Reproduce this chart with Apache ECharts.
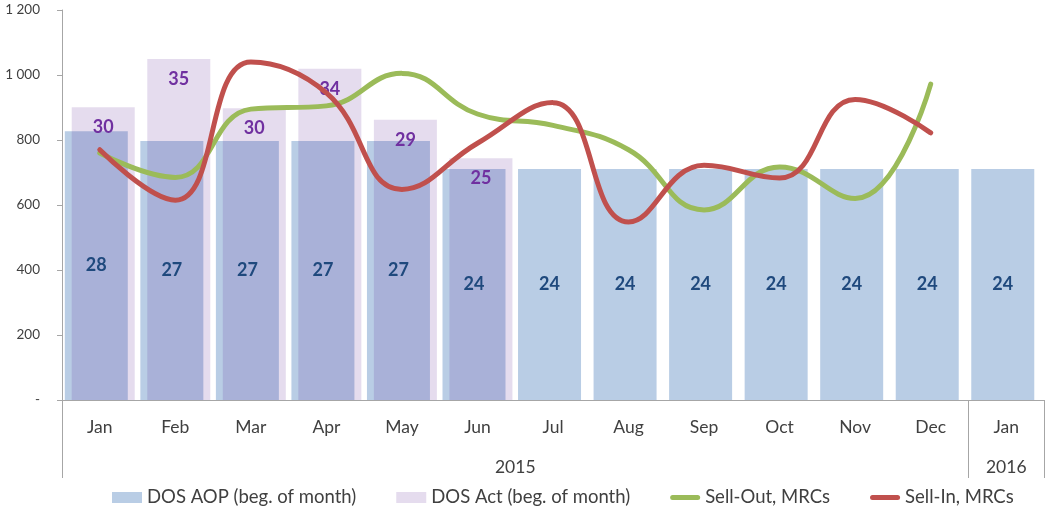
<!DOCTYPE html>
<html>
<head>
<meta charset="utf-8">
<script src="https://cdn.jsdelivr.net/npm/echarts@6/dist/echarts.min.js"></script>
<style>
  html, body { margin: 0; padding: 0; background: #fff; }
  #chart { width: 1046px; height: 515px; }
</style>
</head>
<body>
<div id="chart"></div>
<script>
// months on the axis, last one is Jan 2016
var months = ['Jan', 'Feb', 'Mar', 'Apr', 'May', 'Jun', 'Jul', 'Aug', 'Sep', 'Oct', 'Nov', 'Dec', 'Jan'];
var years = ['2015', '2016'];

// days of stock (bars, right hidden scale)
var dosAop = [27.9, 26.9, 26.9, 26.9, 26.9, 24, 24, 24, 24, 24, 24, 24, 24];
var dosAct = [30.4, 35.4, 30.3, 34.4, 29.1, 25.1];

// MRCs (lines, left scale)
var sellOut = [760, 685, 895, 905, 1005, 880, 845, 770, 585, 717, 620, 972];
var sellIn = [770, 615, 1040, 945, 648, 790, 915, 548, 722, 683, 925, 822];

var font = 'Lato';
var txt = '#404040';
var lineIcon = 'path://M3,0 L33,0 A3,3 0 0 1 33,6 L3,6 A3,3 0 0 1 3,0 Z';

var myChart = echarts.init(document.getElementById('chart'));

var option = {
    animation: false,
    textStyle: { fontFamily: font },
    grid: { left: 62, right: 2, top: 10, bottom: 115 },
    legend: {
        left: 107,
        bottom: 3,
        itemGap: 40,
        itemWidth: 30,
        itemHeight: 11,
        textStyle: { fontFamily: font, fontSize: 18.5, color: txt },
        data: [
            { name: 'DOS AOP (beg. of month)', icon: 'rect' },
            { name: 'DOS Act (beg. of month)', icon: 'rect' },
            { name: 'Sell-Out, MRCs', icon: lineIcon },
            { name: 'Sell-In, MRCs', icon: lineIcon }
        ]
    },
    xAxis: [{
        type: 'category',
        data: months,
        axisLine: { lineStyle: { color: '#a6a6a6' } },
        axisTick: { length: 38, interval: 0, lineStyle: { color: '#a6a6a6' } },
        axisLabel: { interval: 0, margin: 18, fontSize: 17.5, color: txt, fontFamily: font }
    }, {
        // year row under the months
        type: 'value',
        position: 'bottom',
        min: 0,
        max: 13,
        axisLine: { show: false },
        splitLine: { show: false },
        axisTick: { show: true, length: 78, customValues: [0, 12, 13], lineStyle: { color: '#a6a6a6' } },
        axisLabel: {
            margin: 58, fontSize: 17.5, color: txt, fontFamily: font,
            customValues: [6, 12.5],
            formatter: function (v) { return v < 12 ? years[0] : years[1]; }
        }
    }],
    yAxis: [{
        type: 'value',
        min: 0,
        max: 1200,
        interval: 200,
        axisLine: { show: true, lineStyle: { color: '#a6a6a6' } },
        axisTick: { show: true, length: 5, lineStyle: { color: '#a6a6a6' } },
        splitLine: { show: false },
        axisLabel: {
            margin: 22, fontSize: 13.5, color: txt, fontFamily: font,
            formatter: function (v) {
                if (v === 0) return '-';
                return String(v).replace(/\B(?=(\d{3})+(?!\d))/g, ' ');
            }
        }
    }, {
        type: 'value',
        show: false,
        min: 0,
        max: 40.5,
        splitLine: { show: false }
    }],
    series: [{
        name: 'DOS AOP (beg. of month)',
        type: 'bar',
        yAxisIndex: 1,
        barWidth: 63,
        barGap: '-89%',
        data: dosAop,
        itemStyle: { color: '#b9cde5' },
        label: {
            show: true, position: 'inside', color: '#1f497d',
            fontWeight: 'bold', fontSize: 18, fontFamily: font,
            formatter: function (p) { return Math.round(p.value); }
        }
    }, {
        name: 'DOS Act (beg. of month)',
        type: 'bar',
        yAxisIndex: 1,
        barWidth: 63,
        barGap: '-89%',
        data: dosAct,
        itemStyle: { color: 'rgba(80, 20, 140, 0.15)' },
        label: {
            show: true, position: 'insideTop', distance: 11, color: '#7030a0',
            fontWeight: 'bold', fontSize: 18, fontFamily: font,
            formatter: function (p) { return Math.round(p.value); }
        }
    }, {
        name: 'Sell-Out, MRCs',
        type: 'line',
        smooth: 0.45,
        symbol: 'none',
        data: sellOut,
        z: 5,
        itemStyle: { color: '#9bbb59' },
        lineStyle: { color: '#9bbb59', width: 5, cap: 'round' }
    }, {
        name: 'Sell-In, MRCs',
        type: 'line',
        smooth: 0.45,
        symbol: 'none',
        data: sellIn,
        z: 6,
        itemStyle: { color: '#c0504d' },
        lineStyle: { color: '#c0504d', width: 5, cap: 'round' }
    }]
};

myChart.setOption(option);
</script>
</body>
</html>
